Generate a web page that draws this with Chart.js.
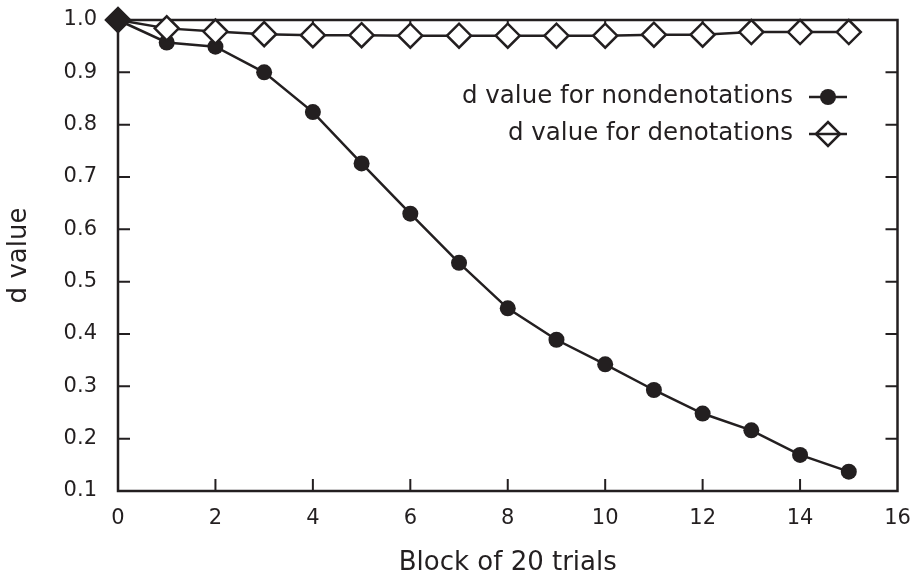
<!DOCTYPE html>
<html>
<head>
<meta charset="utf-8">
<script src="https://cdn.jsdelivr.net/npm/chart.js@4/dist/chart.umd.min.js"></script>
<style>
  html, body { margin: 0; padding: 0; background: #fff; }
  #wrap { width: 912px; height: 579px; position: relative; }
</style>
</head>
<body>
<div id="wrap"><canvas id="c" width="912" height="579"></canvas></div>
<script>
const blocks = [0,1,2,3,4,5,6,7,8,9,10,11,12,13,14,15];
const nondenotations = [1.0, 0.957, 0.949, 0.900, 0.824, 0.726, 0.630, 0.536, 0.449, 0.389, 0.342, 0.293, 0.248, 0.216, 0.169, 0.137];
const denotations = [1.0, 0.984, 0.978, 0.973, 0.971, 0.971, 0.970, 0.970, 0.970, 0.970, 0.970, 0.972, 0.972, 0.977, 0.977, 0.977];
const xTicks = [0,2,4,6,8,10,12,14,16];
const yTicks = [0.1,0.2,0.3,0.4,0.5,0.6,0.7,0.8,0.9,1.0];
const seriesLabels = ['d value for nondenotations', 'd value for denotations'];
const xTitle = 'Block of 20 trials';
const yTitle = 'd value';

const INK = '#231f20';
const FONT = "'DejaVu Sans', sans-serif";

const framePlugin = {
  id: 'frame',
  beforeDatasetsDraw(chart) {
    const ctx = chart.ctx, a = chart.chartArea;
    const xs = chart.scales.x, ys = chart.scales.y;
    ctx.save();
    ctx.strokeStyle = INK;
    ctx.lineWidth = 2.5;
    ctx.strokeRect(a.left, a.top, a.right - a.left, a.bottom - a.top);
    const L = 12;
    ctx.lineWidth = 2;
    ctx.beginPath();
    xTicks.forEach(v => {
      const px = xs.getPixelForValue(v);
      if (Math.abs(px - a.left) < 2 || Math.abs(px - a.right) < 2) return;
      ctx.moveTo(px, a.bottom); ctx.lineTo(px, a.bottom - L);
      ctx.moveTo(px, a.top); ctx.lineTo(px, a.top + L);
    });
    yTicks.forEach(v => {
      const py = ys.getPixelForValue(v);
      if (Math.abs(py - a.top) < 2 || Math.abs(py - a.bottom) < 2) return;
      ctx.moveTo(a.left, py); ctx.lineTo(a.left + L, py);
      ctx.moveTo(a.right, py); ctx.lineTo(a.right - L, py);
    });
    ctx.stroke();
    ctx.restore();
  },
  afterDraw(chart) {
    const ctx = chart.ctx;
    ctx.save();
    ctx.font = "24.5px " + FONT;
    ctx.fillStyle = INK;
    ctx.strokeStyle = INK;
    ctx.textAlign = 'right';
    ctx.textBaseline = 'middle';
    const rows = [97, 134];
    const textRight = 793, mx = 828;
    seriesLabels.forEach((lab, i) => {
      const y = rows[i];
      ctx.fillText(lab, textRight, y);
      ctx.lineWidth = 2.5;
      ctx.beginPath();
      ctx.moveTo(mx - 19, y); ctx.lineTo(mx + 19, y);
      ctx.stroke();
      if (i === 0) {
        ctx.beginPath();
        ctx.arc(mx, y, 8, 0, Math.PI * 2);
        ctx.fill();
      } else {
        const r = 12;
        ctx.beginPath();
        ctx.moveTo(mx - r, y); ctx.lineTo(mx, y - r); ctx.lineTo(mx + r, y); ctx.lineTo(mx, y + r); ctx.closePath();
        ctx.fillStyle = '#fff';
        ctx.fill();
        ctx.stroke();
        ctx.beginPath();
        ctx.moveTo(mx - r, y); ctx.lineTo(mx + r, y);
        ctx.stroke();
        ctx.fillStyle = INK;
      }
    });
    ctx.restore();
  }
};

new Chart(document.getElementById('c'), {
  type: 'line',
  data: {
    labels: blocks,
    datasets: [
      {
        label: seriesLabels[0],
        data: blocks.map((b, i) => ({x: b, y: nondenotations[i]})),
        borderColor: INK,
        borderWidth: 2.5,
        backgroundColor: INK,
        pointStyle: 'circle',
        pointRadius: 8,
        pointBorderWidth: 0,
        pointBackgroundColor: INK,
        tension: 0,
        clip: false,
        order: 1
      },
      {
        label: seriesLabels[1],
        data: blocks.map((b, i) => ({x: b, y: denotations[i]})),
        borderColor: INK,
        borderWidth: 2.5,
        pointStyle: 'rectRot',
        pointRadius: 12,
        pointBorderWidth: 2.5,
        pointBorderColor: INK,
        pointBackgroundColor: blocks.map((b, i) => i === 0 ? INK : '#fff'),
        tension: 0,
        clip: false,
        order: 0
      }
    ]
  },
  options: {
    responsive: false,
    animation: false,
    events: [],
    layout: { padding: { top: 20, right: 11, left: 0, bottom: 0 } },
    plugins: { legend: { display: false }, tooltip: { enabled: false } },
    scales: {
      x: {
        type: 'linear',
        min: 0, max: 16,
        afterBuildTicks(s) { s.ticks = xTicks.map(v => ({value: v})); },
        afterFit(s) { s.height = 88; s.paddingLeft = 0; s.paddingRight = 0; },
        grid: { display: false, drawTicks: false },
        border: { display: false },
        ticks: { color: INK, font: { family: FONT, size: 21 }, padding: 15, maxRotation: 0, autoSkip: false },
        title: { display: true, text: xTitle, color: INK, font: { family: FONT, size: 26 }, padding: { top: 0, bottom: 0 } }
      },
      y: {
        type: 'linear',
        min: 0.1, max: 1.0,
        afterBuildTicks(s) { s.ticks = yTicks.map(v => ({value: v})); },
        afterFit(s) { s.width = 118; s.paddingTop = 0; s.paddingBottom = 0; },
        grid: { display: false, drawTicks: false },
        border: { display: false },
        ticks: { color: INK, font: { family: FONT, size: 21 }, padding: 21, autoSkip: false, callback: v => v.toFixed(1) },
        title: { display: true, text: yTitle, color: INK, font: { family: FONT, size: 26 }, padding: { top: 4, bottom: 4 } }
      }
    }
  },
  plugins: [framePlugin]
});
</script>
</body>
</html>
